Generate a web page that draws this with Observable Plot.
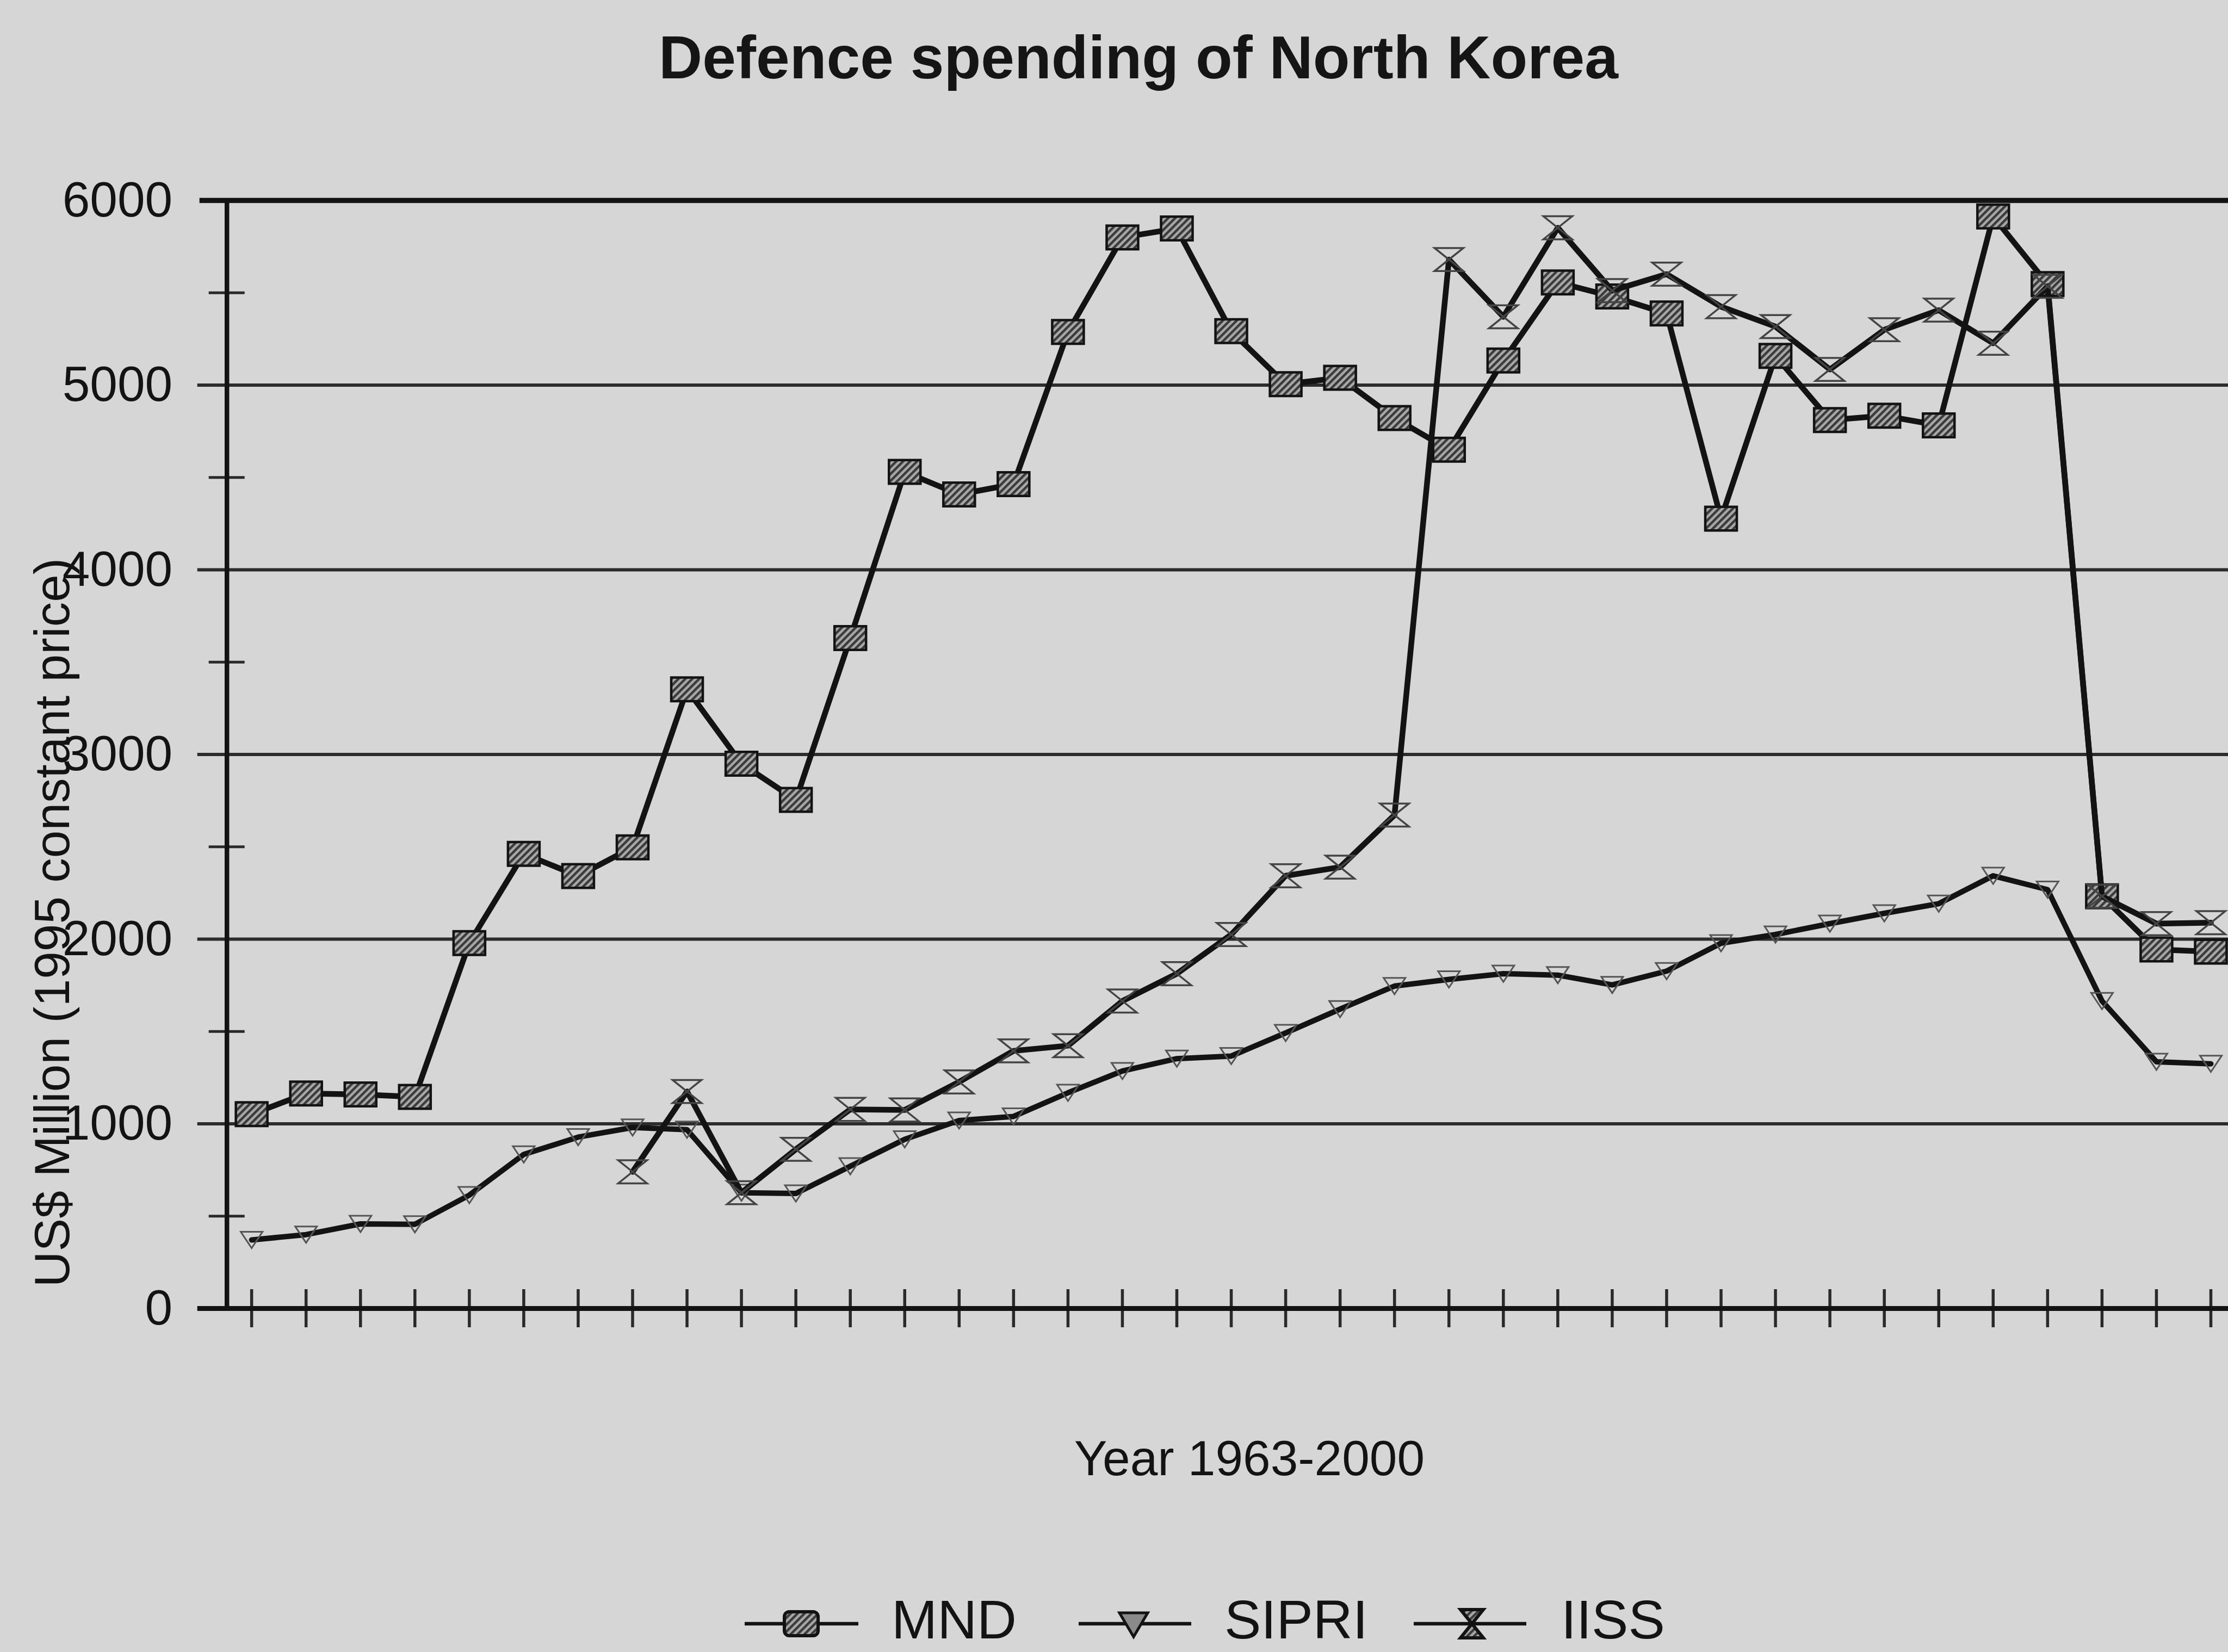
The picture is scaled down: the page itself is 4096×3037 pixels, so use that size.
<!DOCTYPE html>
<html>
<head>
<meta charset="utf-8">
<script src="https://cdn.jsdelivr.net/npm/d3@7"></script>
<script src="https://cdn.jsdelivr.net/npm/@observablehq/plot@0.6"></script>
<style>
html, body { margin: 0; padding: 0; background: #d6d6d6; overflow: hidden; width: 4096px; height: 3037px; }
body { position: relative; font-family: "Liberation Sans", Arial, sans-serif; color: #151515; }
#title { position: absolute; left: 0; width: 4186px; top: 51px; text-align: center; font-weight: bold; font-size: 111px; line-height: 111px; white-space: nowrap; }
#chart { position: absolute; left: 0; top: 0; }
#legend { position: absolute; left: 0; top: 0; pointer-events: none; }
</style>
</head>
<body>
<svg width="0" height="0" style="position:absolute">
  <defs>
    <pattern id="hatch" width="9" height="9" patternUnits="userSpaceOnUse" patternTransform="rotate(45)">
      <rect width="9" height="9" fill="#a8a8a8"></rect>
      <rect width="4.5" height="9" fill="#3a3a3a"></rect>
    </pattern>
  </defs>
</svg>
<div id="title">Defence spending of North Korea</div>
<div id="chart"></div>
<svg id="legend" width="4096" height="3037"></svg>
<script>
// ---- data ----
const years = [1963,1964,1965,1966,1967,1968,1969,1970,1971,1972,1973,1974,1975,1976,1977,1978,1979,1980,1981,1982,1983,1984,1985,1986,1987,1988,1989,1990,1991,1992,1993,1994,1995,1996,1997,1998,1999];
const mndValues = [1052,1164,1159,1146,1979,2462,2342,2497,3353,2950,2754,3630,4530,4408,4464,5288,5800,5848,5292,5005,5040,4822,4650,5133,5556,5480,5388,4277,5158,4811,4834,4782,5913,5547,2232,1944,1932];
const sipriValues = [371,400,458,456,614,834,928,980,968,627,623,770,916,1018,1040,1168,1286,1353,1367,1492,1621,1746,1782,1813,1805,1752,1827,1978,2025,2084,2140,2192,2343,2268,1665,1336,1325];
const iissYears = [1970,1971,1972,1973,1974,1975,1976,1977,1978,1979,1980,1981,1982,1983,1984,1985,1986,1987,1988,1989,1990,1991,1992,1993,1994,1995,1996,1997,1998,1999];
const iissValues = [740,1175,627,862,1078,1075,1227,1395,1423,1665,1813,2025,2343,2390,2672,5680,5370,5852,5512,5601,5425,5317,5085,5300,5406,5227,5535,2232,2084,2089];
const seriesNames = ["MND", "SIPRI", "IISS"];
const yTicks = [0,1000,2000,3000,4000,5000,6000];
const gridValues = [1000,2000,3000,4000,5000];
const minorTicks = [500,1500,2500,3500,4500,5500];
const yLabel = "US$ Million (1995 constant price)";
const xLabel = "Year 1963-2000";

const mnd = years.map((year, i) => ({year, value: mndValues[i]}));
const sipri = years.map((year, i) => ({year, value: sipriValues[i]}));
const iiss = iissYears.map((year, i) => ({year, value: iissValues[i]}));

// ---- layout ----
const W = 4096, H = 2800;
const mL = 416.7, mT = 368, mB = H - 2405, mR = 0;
const frameW = W - mL - mR, frameH = H - mT - mB;
const xDomain = [1962.546, 1999.32];
const ink = "#131313";

// marker shapes
const rectSym = {draw(ctx, size) { const r = Math.sqrt(size / Math.PI); ctx.rect(-r, -r * 0.75, 2 * r, 1.5 * r); }};
const triDown = {draw(ctx, size) { const r = Math.sqrt(size / Math.PI); ctx.moveTo(-r, -0.75 * r); ctx.lineTo(r, -0.75 * r); ctx.lineTo(0, 0.75 * r); ctx.closePath(); }};
const hourglass = {draw(ctx, size) { const r = Math.sqrt(size / Math.PI); ctx.moveTo(-r, -0.8 * r); ctx.lineTo(r, -0.8 * r); ctx.lineTo(-r, 0.8 * r); ctx.lineTo(r, 0.8 * r); ctx.closePath(); }};

const chart = Plot.plot({
  width: W, height: H,
  marginLeft: mL, marginRight: mR, marginTop: mT, marginBottom: mB,
  style: {background: "transparent", fontFamily: "'Liberation Sans', Arial, sans-serif", fontSize: "91px", color: ink},
  x: {domain: xDomain, axis: null},
  y: {domain: [0, 6000], axis: null},
  marks: [
    Plot.ruleY(gridValues, {stroke: "#2c2c2c", strokeWidth: 6, insetLeft: -54}),
    Plot.ruleY([6000], {stroke: ink, strokeWidth: 9.5, insetLeft: -50}),
    Plot.ruleY(minorTicks, {stroke: "#2a2a2a", strokeWidth: 5, insetLeft: -33, insetRight: frameW - 33}),
    Plot.ruleX(years, {stroke: "#2a2a2a", strokeWidth: 5.5, insetTop: frameH - 35, insetBottom: -35}),
    Plot.ruleY([0], {stroke: ink, strokeWidth: 9, insetLeft: -54}),
    Plot.ruleX([xDomain[0]], {stroke: ink, strokeWidth: 8.5}),
    Plot.axisY({ticks: yTicks, tickSize: 0, tickPadding: 100, tickFormat: d => String(d), label: null, fontSize: 91, fill: ink}),
    // MND
    Plot.line(mnd, {x: "year", y: "value", stroke: ink, strokeWidth: 10.5, strokeLinejoin: "round"}),
    Plot.dot(mnd, {x: "year", y: "value", symbol: rectSym, r: 29, fill: "url(#hatch)", stroke: ink, strokeWidth: 4.5}),
    // SIPRI
    Plot.line(sipri, {x: "year", y: "value", stroke: ink, strokeWidth: 10, strokeLinejoin: "round"}),
    Plot.dot(sipri, {x: "year", y: "value", symbol: triDown, r: 20, fill: "none", stroke: "#555", strokeWidth: 3}),
    // IISS
    Plot.line(iiss, {x: "year", y: "value", stroke: ink, strokeWidth: 10.5, strokeLinejoin: "round"}),
    Plot.dot(iiss, {x: "year", y: "value", symbol: hourglass, r: 26.5, fill: "none", stroke: "#444", strokeWidth: 3.5}),
    // axis titles
    Plot.text([yLabel], {text: d => d, frameAnchor: "left", textAnchor: "middle", rotate: -90, lineAnchor: "bottom", dx: -290, dy: 309, fontSize: 91, fill: ink}),
    Plot.text([xLabel], {text: d => d, frameAnchor: "bottom", textAnchor: "middle", lineAnchor: "bottom", dx: 40, dy: 306, fontSize: 91, fill: ink})
  ]
});
document.getElementById("chart").appendChild(chart);

// ---- legend ----
const legendItems = [
  {name: seriesNames[0], x1: 1369, x2: 1578, mx: 1473, tx: 1639, kind: "rect"},
  {name: seriesNames[1], x1: 1983, x2: 2190, mx: 2084, tx: 2251, kind: "tri"},
  {name: seriesNames[2], x1: 2599, x2: 2806, mx: 2706, tx: 2870, kind: "hour"}
];
const ly = 2985, lBase = 3012;
let s = "";
for (const it of legendItems) {
  s += `<line x1="${it.x1}" x2="${it.x2}" y1="${ly}" y2="${ly}" stroke="${ink}" stroke-width="6.5"/>`;
  if (it.kind === "rect") {
    s += `<rect x="${it.mx - 31}" y="${ly - 22}" width="62" height="44" rx="9" fill="url(#hatch)" stroke="${ink}" stroke-width="6"/>`;
  } else if (it.kind === "tri") {
    s += `<path d="M${it.mx - 26},${ly - 20}L${it.mx + 26},${ly - 20}L${it.mx},${ly + 24}Z" fill="#8a8a8a" stroke="${ink}" stroke-width="5"/>`;
  } else {
    s += `<path d="M${it.mx - 21},${ly - 26}L${it.mx + 21},${ly - 26}L${it.mx - 21},${ly + 26}L${it.mx + 21},${ly + 26}Z" fill="url(#hatch)" stroke="${ink}" stroke-width="6"/>`;
  }
  s += `<text x="${it.tx}" y="${lBase}" font-family="'Liberation Sans', Arial, sans-serif" font-size="101" fill="${ink}">${it.name}</text>`;
}
document.getElementById("legend").innerHTML = s;
</script>
</body>
</html>
